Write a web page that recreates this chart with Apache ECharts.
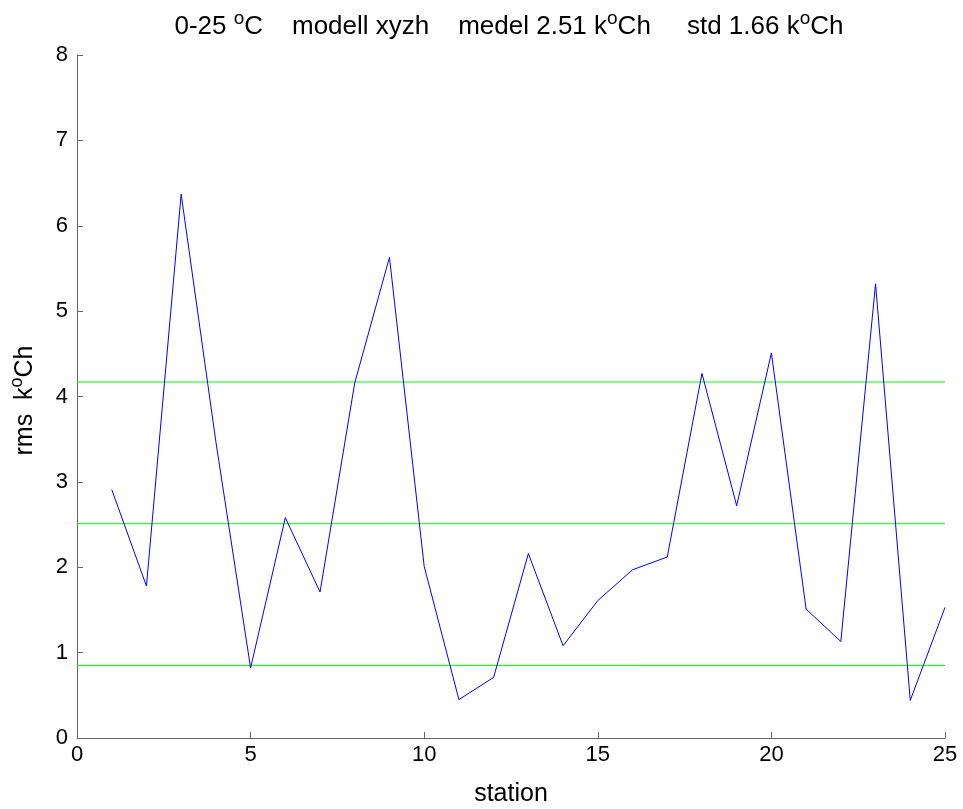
<!DOCTYPE html>
<html>
<head>
<meta charset="utf-8">
<script src="https://cdn.jsdelivr.net/npm/echarts@6/dist/echarts.min.js"></script>
<style>html,body{margin:0;padding:0;background:#fff}#c{width:963px;height:809px}</style>
</head>
<body>
<div id="c"></div>
<script>
const stations = [1,2,3,4,5,6,7,8,9,10,11,12,13,14,15,16,17,18,19,20,21,22,23,24,25];
const rmsValues = [2.91,1.78,6.37,3.47,0.82,2.58,1.71,4.16,5.63,2.01,0.45,0.71,2.16,1.08,1.61,1.97,2.12,4.27,2.72,4.51,1.51,1.13,5.32,0.44,1.53];
const meanValue = 2.51;
const stdValue = 1.66;
const xRange = [0, 25];
const xTicks = [0,5,10,15,20,25];
const yTicks = [0,1,2,3,4,5,6,7,8];

const FONT = 'Liberation Sans, Arial, sans-serif';
const lineData = stations.map((s,i)=>[s, rmsValues[i]]);
const hline = v => xRange.map(x=>[x, v]);

const chart = echarts.init(document.getElementById('c'), null, {renderer:'canvas'});
chart.setOption({
  animation:false,
  backgroundColor:'#fff',
  title:{
    text:'0-25 {s|o}C    modell xyzh    medel ' + meanValue.toFixed(2) + ' k{s|o}Ch     std ' + stdValue.toFixed(2) + ' k{s|o}Ch',
    left:504, top:4, textAlign:'center',
    textStyle:{
      fontFamily:FONT, fontSize:26, fontWeight:'normal', color:'#000', lineHeight:36,
      rich:{ s:{fontFamily:FONT, fontSize:19, color:'#000', verticalAlign:'top', lineHeight:36} }
    }
  },
  grid:{left:77, right:18, top:55, bottom:71, containLabel:false, outerBoundsMode:'none'},
  xAxis:{
    type:'value', min:xRange[0], max:xRange[1], interval:5,
    name:'station', nameLocation:'middle', nameGap:44,
    nameTextStyle:{fontFamily:FONT, fontSize:25, color:'#000'},
    axisLine:{show:true, lineStyle:{color:'#666', width:1}},
    axisTick:{show:true, inside:true, length:6, lineStyle:{color:'#666'}},
    axisLabel:{fontFamily:FONT, fontSize:22, color:'#000', margin:6,
      formatter:v=>xTicks.includes(v)?String(v):''},
    splitLine:{show:false}
  },
  yAxis:{
    type:'value', min:0, max:8, interval:1,
    name:'rms  k{s|o}Ch', nameLocation:'middle', nameGap:35, nameRotate:90,
    nameTextStyle:{fontFamily:FONT, fontSize:25, color:'#000', lineHeight:34, padding:[0,8,0,0],
      rich:{s:{fontFamily:FONT, fontSize:18, color:'#000', verticalAlign:'top', lineHeight:34}}},
    axisLine:{show:true, lineStyle:{color:'#666', width:1}},
    axisTick:{show:true, inside:true, length:6, lineStyle:{color:'#666'}},
    axisLabel:{fontFamily:FONT, fontSize:22, color:'#000', margin:9,
      formatter:v=>yTicks.includes(v)?String(v):''},
    splitLine:{show:false}
  },
  series:[
    {type:'line', data:hline(meanValue+stdValue), showSymbol:false, lineStyle:{color:'#00ff00', width:1}, z:2},
    {type:'line', data:hline(meanValue), showSymbol:false, lineStyle:{color:'#00ff00', width:1}, z:2},
    {type:'line', data:hline(meanValue-stdValue), showSymbol:false, lineStyle:{color:'#00ff00', width:1}, z:2},
    {type:'line', data:lineData, showSymbol:false, lineStyle:{color:'#0000ff', width:1}, z:3}
  ]
});
</script>
</body>
</html>
